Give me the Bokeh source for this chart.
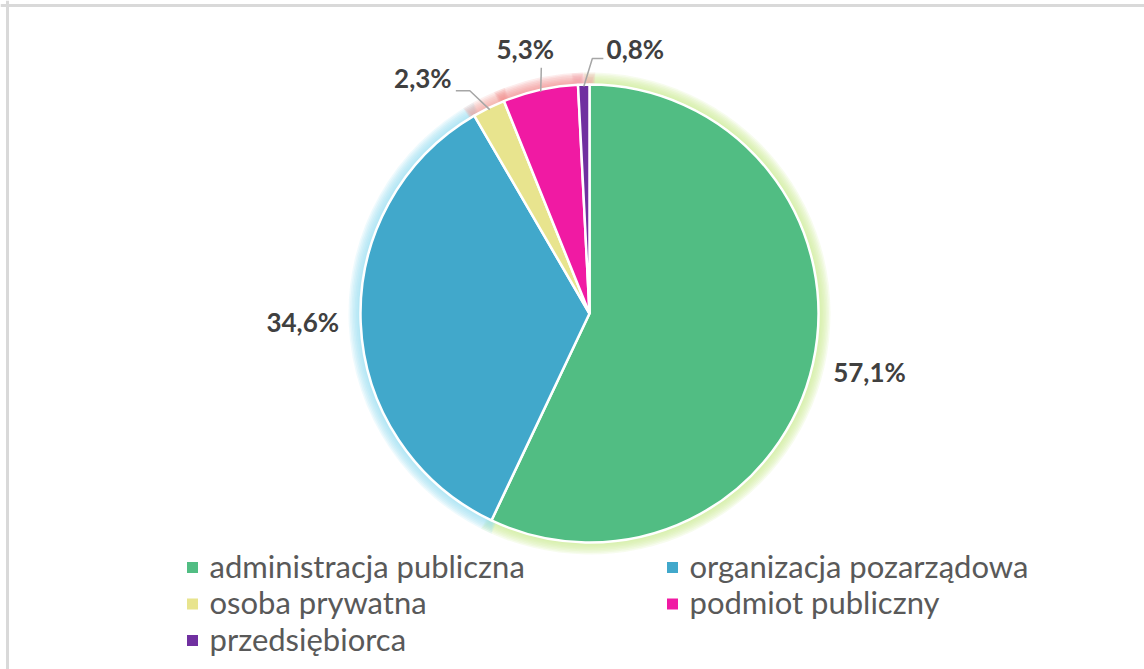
import math
from bokeh.plotting import figure
from bokeh.models import Range1d, Span
from bokeh.core.properties import value
from bokeh.embed import file_html
from bokeh.resources import INLINE

# ---- data ----
categories = ["administracja publiczna", "organizacja pozarządowa", "osoba prywatna",
              "podmiot publiczny", "przedsiębiorca"]
values = [57.1, 34.6, 2.3, 5.3, 0.8]
value_labels = ["57,1%", "34,6%", "2,3%", "5,3%", "0,8%"]

# ---- style ----
colors = ["#51BD83", "#41A8CB", "#E8E48E", "#F01AA3", "#7030A0"]
glow_colors = ["#CDEB96", "#9EDFF5", "#F4A09A", "#F08C8C", "#F0A8B0"]
W, H = 1144, 669
CX, CY, R = 589, H - 313, 229
LABEL_R = R + 58
LABEL_DY = 4
# manual label placement for small slices: (dx, dy) from arc point, leader elbow / end offsets
small_label = {2: ((-66, 26), (47, -9), (33, -9)),
               3: ((-15, 37), (16, -15), (16, -15)),
               4: ((51.6, 32), (-43, -6), (-32, -6))}
FONT = value("Lato")

p = figure(width=W, height=H, x_range=Range1d(0, W), y_range=Range1d(0, H),
           output_backend="svg", toolbar_location=None, min_border=0)
p.axis.visible = False
p.grid.visible = False
p.outline_line_color = None
p.background_fill_color = "white"
p.border_fill_color = "white"

# frame (only top and left edges visible in reference)
p.add_layout(Span(location=H - 5, dimension="width", line_color="#D9D9D9", line_width=3))
p.add_layout(Span(location=7, dimension="height", line_color="#D9D9D9", line_width=3))

total = sum(values)
starts, ends, mids = [], [], []
cum = 0.0
for v in values:
    a0 = math.pi / 2 - cum / total * 2 * math.pi
    cum += v
    a1 = math.pi / 2 - cum / total * 2 * math.pi
    starts.append(a0)
    ends.append(a1)
    mids.append((a0 + a1) / 2)

# glow
for i in range(len(values)):
    for k in range(1, 9):
        p.annular_wedge(x=CX, y=CY, inner_radius=R - 1, outer_radius=R + k * 1.5,
                        start_angle=starts[i] + 0.003 * k, end_angle=ends[i] - 0.003 * k,
                        direction="clock", fill_color=glow_colors[i], fill_alpha=0.16,
                        line_color=None)

# slices
p.wedge(x=[CX] * len(values), y=[CY] * len(values), radius=R,
        start_angle=starts, end_angle=ends, direction="clock",
        fill_color=colors, line_color="white", line_width=2.5)

# labels
for i, lab in enumerate(value_labels):
    ax = CX + R * math.cos(mids[i])
    ay = CY + R * math.sin(mids[i])
    if i in small_label:
        (dx, dy), elb, end = small_label[i]
        lx, ly = ax + dx, ay + dy
        sx = CX + (R - 2) * math.cos(mids[i])
        sy = CY + (R - 2) * math.sin(mids[i])
        p.line(x=[sx, lx + elb[0], lx + end[0]], y=[sy, ly + elb[1], ly + end[1]],
               line_color="#A6A6A6", line_width=1.5)
    else:
        lx = CX + LABEL_R * math.cos(mids[i])
        ly = CY + LABEL_R * math.sin(mids[i])
    p.text(x=[lx], y=[ly + LABEL_DY], text=[lab], text_font=FONT, text_font_style="bold",
           text_font_size="26px", text_color="#404040",
           text_align="center", text_baseline="middle")

# legend
leg_x0, leg_dx, leg_y0, leg_dy = 192, 480, H - 567, 36.5
for i, cat in enumerate(categories):
    col, row = i % 2, i // 2
    mx = leg_x0 + col * leg_dx
    my = leg_y0 - row * leg_dy
    p.rect(x=[mx], y=[my], width=11, height=11, fill_color=colors[i], line_color=None)
    p.text(x=[mx + 17], y=[my + 2], text=[cat], text_font=FONT, text_font_size="31px",
           text_color="#595959", text_align="left", text_baseline="middle")

open("out.html", "w").write(file_html(p, INLINE))
